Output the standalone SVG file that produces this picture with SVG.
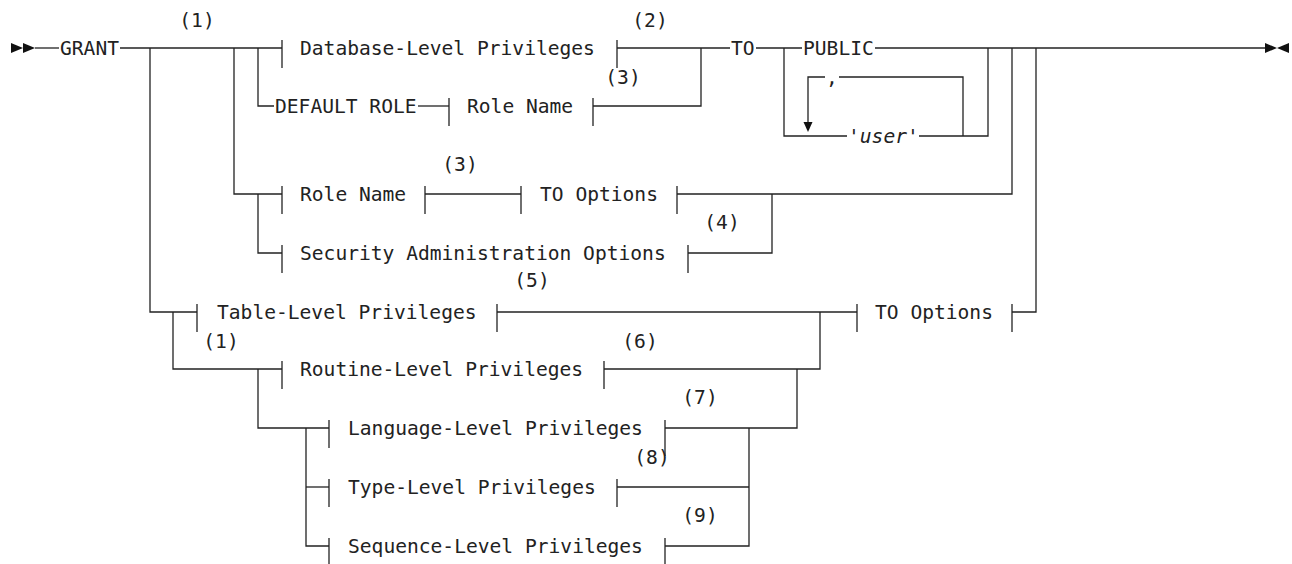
<svg xmlns="http://www.w3.org/2000/svg" width="1292" height="564" viewBox="0 0 1292 564">
<style>
text{font-family:"DejaVu Sans Mono","Liberation Mono",monospace;font-size:19.6px;fill:#222}
.n{text-anchor:middle}
.it{font-style:italic}
line,polyline{stroke:#222;stroke-width:1.3;fill:none}
.ah{fill:#111;stroke:none}
</style>
<rect width="1292" height="564" fill="#fff"/>
<g id="connectors">
<!-- main line -->
<line x1="35" y1="48" x2="59" y2="48"/>
<line x1="120" y1="48" x2="282" y2="48"/>
<line x1="617" y1="48" x2="730" y2="48"/>
<line x1="756" y1="48" x2="802" y2="48"/>
<line x1="875" y1="48" x2="1266" y2="48"/>
<!-- branches from GRANT -->
<polyline points="150,48 150,312 197,312"/>
<polyline points="234,48 234,194 282,194"/>
<polyline points="258,48 258,106 274,106"/>
<!-- default role row -->
<line x1="418" y1="106" x2="449" y2="106"/>
<polyline points="593,106 701,106 701,48"/>
<!-- user loop -->
<polyline points="784,48 784,136 847,136"/>
<polyline points="919,136 988,136 988,48"/>
<polyline points="808,122 808,77 825,77"/>
<polyline points="839,77 963,77 963,136"/>
<polygon class="ah" points="803.5,122 812.5,122 808,132"/>
<!-- role name / security row -->
<polyline points="258,194 258,253 282,253"/>
<line x1="425" y1="194" x2="521" y2="194"/>
<polyline points="677,194 1012,194 1012,48"/>
<polyline points="688,253 772,253 772,194"/>
<!-- table-level row -->
<line x1="497" y1="312" x2="857" y2="312"/>
<polyline points="1012,312 1036,312 1036,48"/>
<polyline points="173,312 173,369 282,369"/>
<polyline points="604,369 820,369 820,312"/>
<polyline points="258,369 258,428 329,428"/>
<polyline points="665,428 797,428 797,369"/>
<polyline points="306,428 306,546 329,546"/>
<line x1="306" y1="487" x2="329" y2="487"/>
<line x1="617" y1="487" x2="749" y2="487"/>
<polyline points="665,546 749,546 749,428"/>
<!-- start / end marks -->
<polygon class="ah" points="11,43 23,48 11,53"/>
<polygon class="ah" points="23,43 35,48 23,53"/>
<polygon class="ah" points="1265,43 1277,48 1265,53"/>
<polygon class="ah" points="1289,43 1277,48 1289,53"/>
</g>
<g id="grant"><text x="60" y="55">GRANT</text></g>
<g id="notes">
<text class="n" x="197" y="27">(1)</text>
<text class="n" x="650" y="27">(2)</text>
<text class="n" x="623" y="84">(3)</text>
<text class="n" x="460" y="171">(3)</text>
<text class="n" x="722" y="229">(4)</text>
<text class="n" x="532" y="287">(5)</text>
<text class="n" x="221" y="348">(1)</text>
<text class="n" x="640" y="348">(6)</text>
<text class="n" x="700" y="404">(7)</text>
<text class="n" x="652" y="464">(8)</text>
<text class="n" x="700" y="522">(9)</text>
</g>
<g id="db-priv"><line x1="282" y1="40" x2="282" y2="68"/><text x="300" y="55">Database-Level Privileges</text><line x1="617" y1="40" x2="617" y2="68"/></g>
<g id="default-role"><text x="275" y="113">DEFAULT ROLE</text></g>
<g id="role-name-1"><line x1="449" y1="98" x2="449" y2="126"/><text x="467" y="113">Role Name</text><line x1="593" y1="98" x2="593" y2="126"/></g>
<g id="to"><text x="731" y="55">TO</text></g>
<g id="public"><text x="803" y="55">PUBLIC</text></g>
<g id="comma"><text class="n" x="832" y="84">,</text></g>
<g id="user"><text class="it" x="848" y="143">'user'</text></g>
<g id="role-name-2"><line x1="282" y1="186" x2="282" y2="214"/><text x="300" y="201">Role Name</text><line x1="425" y1="186" x2="425" y2="214"/></g>
<g id="to-options-1"><line x1="521" y1="186" x2="521" y2="214"/><text x="540" y="201">TO Options</text><line x1="677" y1="186" x2="677" y2="214"/></g>
<g id="sec-admin"><line x1="282" y1="245" x2="282" y2="273"/><text x="300" y="260">Security Administration Options</text><line x1="688" y1="245" x2="688" y2="273"/></g>
<g id="table-priv"><line x1="197" y1="304" x2="197" y2="332"/><text x="217" y="319">Table-Level Privileges</text><line x1="497" y1="304" x2="497" y2="332"/></g>
<g id="to-options-2"><line x1="857" y1="304" x2="857" y2="332"/><text x="875" y="319">TO Options</text><line x1="1012" y1="304" x2="1012" y2="332"/></g>
<g id="routine-priv"><line x1="282" y1="361" x2="282" y2="389"/><text x="300" y="376">Routine-Level Privileges</text><line x1="604" y1="361" x2="604" y2="389"/></g>
<g id="language-priv"><line x1="329" y1="420" x2="329" y2="448"/><text x="348" y="435">Language-Level Privileges</text><line x1="665" y1="420" x2="665" y2="456"/></g>
<g id="type-priv"><line x1="329" y1="479" x2="329" y2="507"/><text x="348" y="494">Type-Level Privileges</text><line x1="617" y1="479" x2="617" y2="507"/></g>
<g id="sequence-priv"><line x1="329" y1="538" x2="329" y2="566"/><text x="348" y="553">Sequence-Level Privileges</text><line x1="665" y1="538" x2="665" y2="566"/></g>
</svg>
